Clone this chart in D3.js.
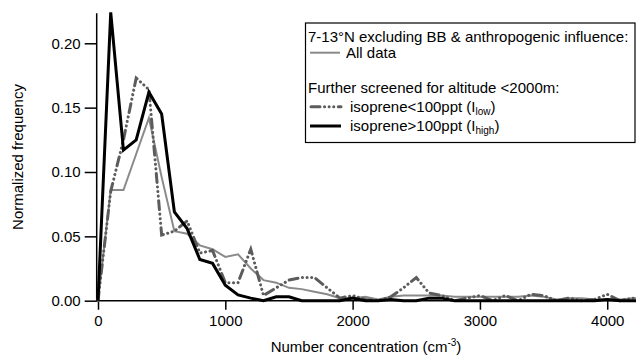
<!DOCTYPE html>
<html>
<head>
<meta charset="utf-8">
<script src="https://cdn.jsdelivr.net/npm/d3@7"></script>
<style>
  body { margin: 0; background: #fff; }
  text { font-family: Arial, "Liberation Sans", sans-serif; fill: #000; }
</style>
</head>
<body>
<div id="chart"></div>
<script>
// bin centres (cm-3)
var binX = [0, 100, 200, 300, 400, 500, 600, 700, 800, 900, 1000, 1100, 1200, 1300, 1400, 1500,
    1600, 1700, 1800, 1900, 2000, 2100, 2200, 2300, 2400, 2500, 2600, 2700, 2800, 2900, 3000,
    3100, 3200, 3300, 3400, 3500, 3600, 3700, 3800, 3900, 4000, 4100, 4200, 4300];

// all data, 7-13N excluding BB & anthropogenic
var allData = [0, 0.086, 0.086, 0.114, 0.142, 0.096, 0.054, 0.052, 0.043, 0.040, 0.034, 0.036,
    0.025, 0.016, 0.014, 0.010, 0.009, 0.007, 0.005, 0.002, 0.002, 0.003, 0.001, 0.003, 0.004,
    0.004, 0.004, 0.004, 0.003, 0.003, 0.003, 0.003, 0.003, 0.003, 0.004, 0.003, 0.001, 0.002,
    0.002, 0.001, 0.001, 0.001, 0.002, 0.002];

// isoprene < 100 ppt
var isoLow = [0, 0.085, 0.125, 0.173, 0.164, 0.051, 0.054, 0.062, 0.037, 0.039, 0.014, 0.014,
    0.040, 0.004, 0.010, 0.016, 0.018, 0.018, 0.010, 0.002, 0.004, 0.001, 0, 0.003, 0.010,
    0.018, 0.006, 0.004, 0, 0.002, 0.004, 0, 0.004, 0, 0.005, 0.004, 0, 0.002, 0, 0.001,
    0.005, 0, 0.002, 0.001];

// isoprene > 100 ppt
var isoHigh = [0, 0.224, 0.117, 0.125, 0.162, 0.145, 0.069, 0.056, 0.032, 0.029, 0.012, 0.0045,
    0.002, 0, 0.003, 0.003, 0, 0, 0, 0, 0.002, 0, 0, 0.001, 0, 0, 0.002, 0.002, 0, 0, 0, 0,
    0, 0, 0, 0, 0, 0, 0, 0, 0.001, 0, 0, 0];

var xTicks = [0, 1000, 2000, 3000, 4000];
var yTicks = [0, 0.05, 0.10, 0.15, 0.20];

var width = 636, height = 357;
var FS = 15;
var DASHDOT = "9,4.5,0.1,4.5,0.1,4.5,0.1,4.5";

var svg = d3.select("#chart").append("svg")
    .attr("width", width)
    .attr("height", height);

var x = d3.scaleLinear().domain([0, 4226]).range([98, 636]);
var y = d3.scaleLinear().domain([0, 0.2233]).range([300.7, 13.3]);

svg.append("defs").append("clipPath").attr("id", "plotClip")
    .append("rect")
    .attr("x", 96).attr("y", 11)
    .attr("width", 540).attr("height", 292);

// axes
var xAxis = svg.append("g")
    .attr("transform", translate(0, 300.7))
    .call(d3.axisBottom(x).tickValues(xTicks).tickSize(9).tickPadding(6).tickFormat(d3.format("d")));
xAxis.select(".domain").attr("d", "M96,0H636").attr("stroke-width", 1.5);
xAxis.selectAll(".tick line").attr("stroke-width", 1.5);
xAxis.selectAll("text").attr("font-size", FS);

var yAxis = svg.append("g")
    .attr("transform", translate(96.7, 0))
    .call(d3.axisLeft(y).tickValues(yTicks).tickSize(12).tickPadding(4).tickFormat(d3.format(".2f")));
yAxis.select(".domain").attr("d", "M0,13.3V301.4").attr("stroke-width", 1.5);
yAxis.selectAll(".tick line").attr("stroke-width", 1.5);
yAxis.selectAll("text").attr("font-size", FS);

// axis titles
var xt = svg.append("text")
    .attr("x", 366).attr("y", 352)
    .attr("text-anchor", "middle")
    .attr("font-size", FS);
xt.append("tspan").text("Number concentration (cm");
xt.append("tspan").attr("font-size", 10).attr("dy", -6).text("-3");
xt.append("tspan").attr("dy", 6).text(")");

svg.append("text")
    .attr("transform", "translate(23,157) rotate(-90)")
    .attr("text-anchor", "middle")
    .attr("font-size", FS)
    .text("Normalized frequency");

// lines
var series = [
    { values: allData, color: "#8a8a8a", width: 2, dash: null },
    { values: isoLow, color: "#5c5c5c", width: 3, dash: DASHDOT },
    { values: isoHigh, color: "#000", width: 3, dash: null }
];

var line = d3.line()
    .x((d, i) => x(binX[i]))
    .y(d => y(d));

var plot = svg.append("g").attr("clip-path", "url(#plotClip)");
plot.selectAll("path")
    .data(series)
    .enter()
    .append("path")
    .attr("d", d => line(d.values))
    .attr("fill", "none")
    .attr("stroke", d => d.color)
    .attr("stroke-width", d => d.width)
    .attr("stroke-linejoin", "miter")
    .attr("stroke-linecap", d => d.dash ? "round" : "butt")
    .attr("stroke-dasharray", d => d.dash);

// legend
var lg = svg.append("g");
lg.append("rect")
    .attr("x", 305.5).attr("y", 23)
    .attr("width", 329.5).attr("height", 119.5)
    .attr("fill", "#fff")
    .attr("stroke", "#000")
    .attr("stroke-width", 1.2);

lg.append("text").attr("x", 308).attr("y", 42).attr("font-size", FS)
    .text("7-13°N excluding BB & anthropogenic influence:");
lg.append("line").attr("x1", 310).attr("x2", 340).attr("y1", 52.7).attr("y2", 52.7)
    .attr("stroke", series[0].color).attr("stroke-width", 2);
lg.append("text").attr("x", 346).attr("y", 58).attr("font-size", FS).text("All data");

lg.append("text").attr("x", 308).attr("y", 93).attr("font-size", FS)
    .text("Further screened for altitude <2000m:");
lg.append("line").attr("x1", 311).attr("x2", 341).attr("y1", 106.7).attr("y2", 106.7)
    .attr("stroke", series[1].color).attr("stroke-width", 3)
    .attr("stroke-linecap", "round").attr("stroke-dasharray", DASHDOT);
var t1 = lg.append("text").attr("x", 350).attr("y", 112).attr("font-size", FS);
t1.append("tspan").text("isoprene<100ppt (I");
t1.append("tspan").attr("font-size", 10).attr("dy", 3).text("low");
t1.append("tspan").attr("dy", -3).text(")");

lg.append("line").attr("x1", 310).attr("x2", 341).attr("y1", 126).attr("y2", 126)
    .attr("stroke", "#000").attr("stroke-width", 3);
var t2 = lg.append("text").attr("x", 350).attr("y", 131).attr("font-size", FS);
t2.append("tspan").text("isoprene>100ppt (I");
t2.append("tspan").attr("font-size", 10).attr("dy", 3).text("high");
t2.append("tspan").attr("dy", -3).text(")");

function translate(x, y) {
    return `translate(${x}, ${y})`;
}
</script>
</body>
</html>
